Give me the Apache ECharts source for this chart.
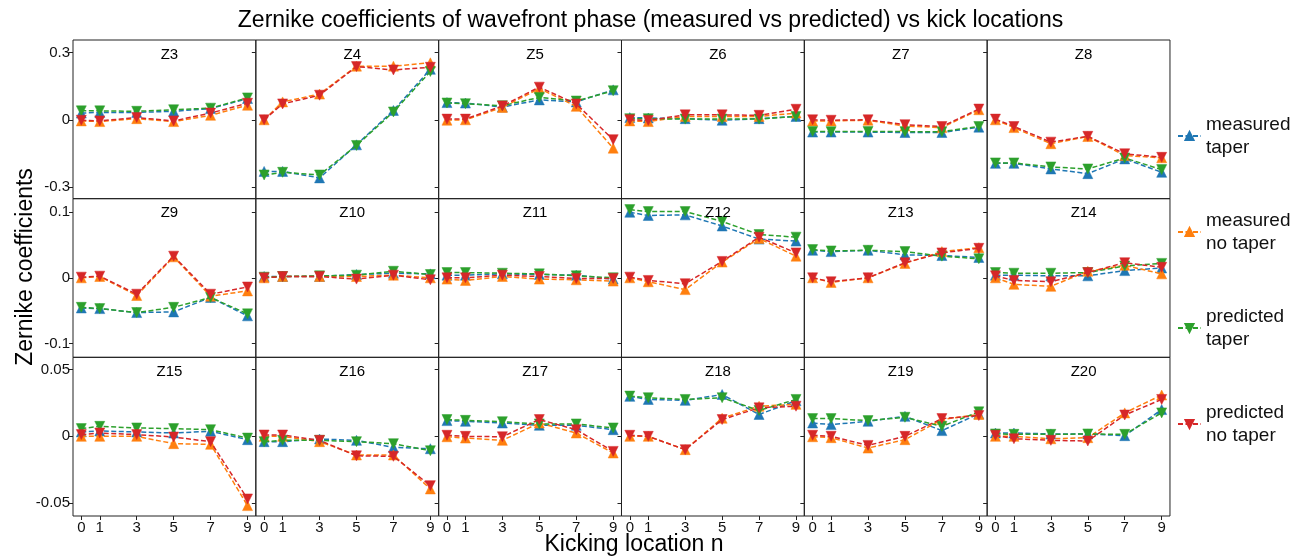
<!DOCTYPE html>
<html style="height: 100%; width: 100%">
<head>
  <meta charset="utf-8" />
</head>
<body style="height: 100%; width: 100%; margin: 0; background: #fff;">
  <div id="chart-panel" style="height: 558px; width: 1301px;"></div>
  <script type="text/javascript" src="https://cdn.jsdelivr.net/npm/echarts@6/dist/echarts.min.js"></script>
  <script type="text/javascript">
    // kick locations (x) and panel names
    var xLocs = [0, 1, 3, 5, 7, 9];
    var panelNames = ["Z3", "Z4", "Z5", "Z6", "Z7", "Z8", "Z9", "Z10", "Z11",
      "Z12", "Z13", "Z14", "Z15", "Z16", "Z17", "Z18", "Z19", "Z20"];
    var seriesNames = ["measured taper", "measured no taper", "predicted taper", "predicted no taper"];
    var yTicks = [[-0.3, 0, 0.3], [-0.1, 0, 0.1], [-0.05, 0, 0.05]];

    var measuredTaper = [
      [0.030, 0.033, 0.033, 0.038, 0.050, 0.095],
      [-0.231, -0.231, -0.260, -0.112, 0.042, 0.226],
      [0.077, 0.075, 0.057, 0.089, 0.080, 0.134],
      [0.010, 0.008, 0.005, -0.002, 0.005, 0.015],
      [-0.055, -0.055, -0.055, -0.057, -0.057, -0.033],
      [-0.195, -0.195, -0.220, -0.241, -0.175, -0.235],
      [-0.046, -0.047, -0.053, -0.052, -0.030, -0.058],
      [0.002, 0.002, 0.002, 0.005, 0.007, 0.006],
      [0.004, 0.004, 0.006, 0.005, 0.004, -0.002],
      [0.100, 0.095, 0.096, 0.079, 0.059, 0.056],
      [0.042, 0.040, 0.042, 0.035, 0.034, 0.031],
      [0.004, 0.004, 0.003, 0.003, 0.011, 0.015],
      [0.0033, 0.0040, 0.0033, 0.0025, 0.0038, -0.0025],
      [-0.0040, -0.0040, -0.0020, -0.0030, -0.0083, -0.0093],
      [0.0118, 0.0113, 0.0100, 0.0083, 0.0083, 0.0050],
      [0.0300, 0.0277, 0.0270, 0.0314, 0.0164, 0.0267],
      [0.0100, 0.0088, 0.0113, 0.0150, 0.0043, 0.0169],
      [0.0025, 0.0025, 0.0018, 0.0018, 0.0005, 0.0201]
    ];
    var measuredNoTaper = [
      [-0.005, -0.008, 0.005, -0.008, 0.020, 0.065],
      [0.000, 0.080, 0.115, 0.240, 0.240, 0.255],
      [-0.002, 0.000, 0.055, 0.140, 0.060, -0.127],
      [-0.005, -0.008, 0.015, 0.015, 0.015, 0.030],
      [-0.005, -0.005, -0.002, -0.028, -0.035, 0.045],
      [0.000, -0.035, -0.107, -0.075, -0.160, -0.170],
      [0.000, 0.002, -0.027, 0.032, -0.028, -0.020],
      [0.000, 0.002, 0.002, 0.002, 0.004, 0.000],
      [-0.002, -0.004, 0.002, -0.002, -0.003, -0.005],
      [0.000, -0.006, -0.018, 0.024, 0.060, 0.033],
      [0.000, -0.007, 0.000, 0.022, 0.040, 0.046],
      [0.000, -0.010, -0.013, 0.010, 0.019, 0.006],
      [0.0000, 0.0000, 0.0000, -0.0055, -0.0060, -0.0520],
      [0.0000, 0.0000, -0.0040, -0.0140, -0.0140, -0.0395],
      [-0.0003, -0.0013, -0.0030, 0.0100, 0.0025, -0.0125],
      [0.0000, 0.0000, -0.0100, 0.0136, 0.0226, 0.0240],
      [-0.0003, -0.0010, -0.0088, -0.0025, 0.0126, 0.0164],
      [0.0000, 0.0000, -0.0018, -0.0010, 0.0176, 0.0310]
    ];
    var predictedTaper = [
      [0.040, 0.040, 0.038, 0.045, 0.052, 0.098],
      [-0.247, -0.235, -0.247, -0.115, 0.035, 0.216],
      [0.075, 0.072, 0.063, 0.100, 0.084, 0.130],
      [0.005, 0.005, 0.003, 0.003, 0.003, 0.015],
      [-0.052, -0.053, -0.052, -0.053, -0.053, -0.030],
      [-0.193, -0.193, -0.211, -0.220, -0.171, -0.223],
      [-0.045, -0.047, -0.053, -0.045, -0.030, -0.055],
      [0.001, 0.002, 0.003, 0.004, 0.010, 0.005],
      [0.008, 0.008, 0.007, 0.006, 0.003, 0.000],
      [0.104, 0.101, 0.101, 0.086, 0.066, 0.062],
      [0.043, 0.041, 0.042, 0.040, 0.033, 0.029],
      [0.008, 0.007, 0.007, 0.008, 0.018, 0.022],
      [0.0058, 0.0075, 0.0063, 0.0058, 0.0050, -0.0013],
      [-0.0040, -0.0030, -0.0030, -0.0040, -0.0055, -0.0108],
      [0.0126, 0.0120, 0.0110, 0.0093, 0.0093, 0.0063],
      [0.0302, 0.0290, 0.0277, 0.0290, 0.0194, 0.0277],
      [0.0133, 0.0133, 0.0118, 0.0143, 0.0075, 0.0184],
      [0.0018, 0.0015, 0.0015, 0.0018, 0.0015, 0.0176]
    ];
    var predictedNoTaper = [
      [-0.002, -0.005, 0.010, -0.005, 0.030, 0.074],
      [0.000, 0.071, 0.110, 0.238, 0.223, 0.235],
      [0.003, 0.003, 0.062, 0.146, 0.071, -0.089],
      [0.000, -0.003, 0.022, 0.022, 0.020, 0.047],
      [0.000, -0.002, 0.000, -0.022, -0.030, 0.048],
      [0.003, -0.030, -0.100, -0.074, -0.152, -0.168],
      [0.001, 0.0025, -0.025, 0.033, -0.025, -0.014],
      [0.000, 0.002, 0.002, -0.002, 0.004, -0.003],
      [0.000, 0.000, 0.004, 0.002, -0.001, -0.001],
      [0.001, -0.004, -0.009, 0.025, 0.062, 0.038],
      [0.000, -0.006, 0.000, 0.023, 0.038, 0.045],
      [0.003, -0.004, -0.006, 0.008, 0.023, 0.016],
      [0.0013, 0.0025, 0.0013, -0.0005, -0.0040, -0.0470],
      [0.0010, 0.0010, -0.0030, -0.0146, -0.0150, -0.0370],
      [0.0008, 0.0000, -0.0003, 0.0126, 0.0050, -0.0113],
      [0.0008, 0.0000, -0.0100, 0.0126, 0.0214, 0.0226],
      [0.0008, 0.0000, -0.0068, 0.0000, 0.0133, 0.0156],
      [0.0008, -0.0018, -0.0030, -0.0035, 0.0160, 0.0277]
    ];

    var allData = [measuredTaper, measuredNoTaper, predictedTaper, predictedNoTaper];
    var colors = ["#1f77b4", "#ff7f0e", "#2ca02c", "#d62728"];
    var rotations = [0, 0, 180, 180];
    var yRanges = [[-0.353, 0.357], [-0.1213, 0.1207], [-0.0598, 0.0593]];
    var font = "Liberation Sans, Arial, Helvetica, sans-serif";

    var gLeft = 73, gTop = 40, gW = 182.83, gH = 158.67;

    var myChart = echarts.init(document.getElementById("chart-panel"));

    var grids = [], xAxes = [], yAxes = [], series = [];
    var titles = [{
      text: "Zernike coefficients of wavefront phase (measured vs predicted) vs kick locations",
      left: "center",
      top: 4,
      textStyle: { fontFamily: font, fontSize: 23, fontWeight: "normal", color: "#000" }
    }];

    panelNames.forEach(function (name, k) {
      var row = Math.floor(k / 6), col = k % 6;
      var left = gLeft + col * gW, top = gTop + row * gH;
      grids.push({
        left: left, top: top, width: gW, height: gH,
        show: true, borderColor: "#222", borderWidth: 1, backgroundColor: "transparent"
      });
      xAxes.push({
        type: "value", gridIndex: k, min: -0.45, max: 9.45, position: "bottom",
        axisLine: { show: false, onZero: false },
        splitLine: { show: false },
        axisTick: { show: row === 2, length: 4, lineStyle: { color: "#222" }, customValues: xLocs },
        axisLabel: {
          show: row === 2, customValues: xLocs, margin: 4,
          fontFamily: font, fontSize: 15, color: "#111"
        }
      });
      yAxes.push({
        type: "value", gridIndex: k, min: yRanges[row][0], max: yRanges[row][1], position: "left",
        axisLine: { show: false, onZero: false },
        splitLine: { show: false },
        axisTick: { show: true, length: 4, lineStyle: { color: "#222" }, customValues: yTicks[row] },
        axisLabel: {
          show: col === 0, customValues: yTicks[row], margin: 3,
          fontFamily: font, fontSize: 15, color: "#111"
        }
      });
      titles.push({
        text: name,
        left: left + gW / 2,
        top: top + 2,
        textAlign: "center",
        textStyle: { fontFamily: font, fontSize: 15, fontWeight: "normal", color: "#000" }
      });
      allData.forEach(function (set, s) {
        series.push({
          name: seriesNames[s],
          type: "line",
          xAxisIndex: k,
          yAxisIndex: k,
          data: xLocs.map(function (x, i) { return [x, set[k][i]]; }),
          symbol: "triangle",
          symbolSize: 10,
          symbolRotate: rotations[s],
          showAllSymbol: true,
          lineStyle: { color: colors[s], width: 1.5, type: [5, 2.5] },
          itemStyle: { color: colors[s], borderColor: colors[s], borderWidth: 0.5, opacity: 1 },
          z: 2 + s,
          silent: true
        });
      });
    });

    var option = {
      animation: false,
      backgroundColor: "#fff",
      title: titles,
      grid: grids,
      xAxis: xAxes,
      yAxis: yAxes,
      series: series,
      legend: {
        data: seriesNames,
        orient: "vertical",
        left: 1172,
        top: 108,
        itemGap: 50,
        itemWidth: 23,
        itemHeight: 10,
        formatter: function (n) { return n.replace(" ", "\n"); },
        textStyle: { fontFamily: font, fontSize: 19, lineHeight: 23, color: "#111" },
        selectedMode: false
      },
      graphic: [
        {
          type: "text",
          x: 26, y: 267,
          rotation: Math.PI / 2,
          style: {
            text: "Zernike coefficients",
            fontFamily: font, fontSize: 23, fill: "#000",
            align: "center", verticalAlign: "middle"
          }
        },
        {
          type: "text",
          x: 634, y: 545,
          style: {
            text: "Kicking location n",
            fontFamily: font, fontSize: 23, fill: "#000",
            align: "center", verticalAlign: "middle"
          }
        }
      ]
    };

    myChart.setOption(option);
  </script>
</body>
</html>
